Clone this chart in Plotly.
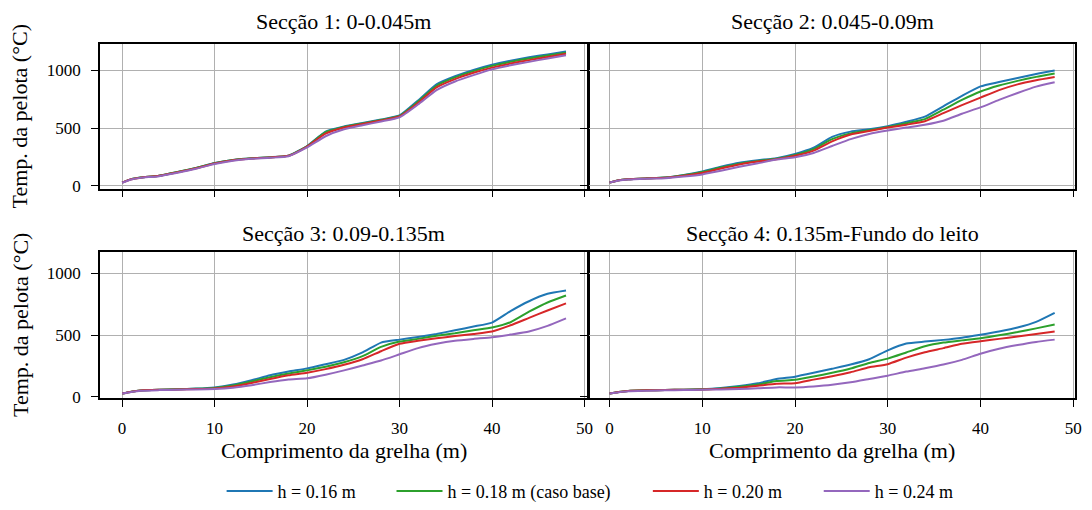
import plotly.graph_objects as go

# ---------------- data ----------------
x = [0, 1, 2, 4, 6, 8, 10, 12, 14, 16, 18, 20, 22, 24, 26, 28, 30, 32, 34, 36, 38, 40, 42, 44, 46, 48]

series_names = ["h = 0.16 m", "h = 0.18 m (caso base)", "h = 0.20 m", "h = 0.24 m"]
colors = ["#1f77b4", "#2ca02c", "#d62728", "#9467bd"]
section_titles = ["Secção 1: 0-0.045m", "Secção 2: 0.045-0.09m",
                  "Secção 3: 0.09-0.135m", "Secção 4: 0.135m-Fundo do leito"]

s1_h016 = [28, 58, 72, 88, 120, 155, 198, 225, 240, 248, 262, 345, 470, 515, 545, 575, 610, 740, 880, 950, 1005, 1050, 1085, 1115, 1140, 1165]
s1_h018 = [28, 58, 72, 88, 119, 154, 197, 224, 239, 247, 261, 343, 465, 510, 541, 571, 606, 730, 868, 940, 995, 1040, 1075, 1105, 1130, 1155]
s1_h020 = [28, 57, 71, 87, 118, 152, 194, 222, 237, 246, 260, 340, 452, 505, 536, 566, 601, 718, 853, 925, 980, 1025, 1060, 1090, 1117, 1145]
s1_h024 = [27, 55, 69, 84, 114, 148, 189, 218, 234, 243, 257, 333, 430, 490, 525, 558, 594, 705, 830, 905, 960, 1010, 1045, 1075, 1105, 1132]

s2_h016 = [28, 48, 57, 65, 72, 95, 125, 165, 200, 222, 240, 276, 330, 425, 470, 490, 517, 555, 600, 690, 780, 862, 900, 935, 970, 1000]
s2_h018 = [28, 48, 57, 65, 72, 92, 120, 158, 192, 215, 235, 268, 318, 405, 455, 482, 510, 542, 578, 660, 745, 818, 870, 910, 945, 975]
s2_h020 = [28, 48, 57, 64, 70, 88, 112, 150, 185, 210, 230, 260, 305, 385, 445, 475, 505, 530, 560, 630, 700, 765, 830, 880, 915, 943]
s2_h024 = [28, 46, 55, 62, 66, 80, 99, 130, 165, 195, 228, 247, 285, 345, 405, 450, 480, 505, 530, 565, 625, 680, 745, 805, 860, 898]

s3_h016 = [27, 42, 52, 58, 62, 67, 77, 100, 135, 175, 205, 231, 265, 300, 360, 440, 464, 485, 510, 540, 570, 602, 695, 775, 835, 862]
s3_h018 = [27, 42, 52, 58, 62, 66, 73, 92, 125, 160, 190, 215, 245, 280, 330, 405, 448, 470, 495, 515, 540, 562, 605, 690, 765, 822]
s3_h020 = [27, 42, 52, 57, 60, 63, 69, 84, 112, 145, 175, 196, 225, 260, 305, 370, 430, 455, 475, 493, 510, 530, 580, 640, 700, 758]
s3_h024 = [27, 40, 50, 55, 58, 60, 64, 75, 95, 120, 140, 151, 180, 215, 255, 295, 345, 395, 430, 455, 470, 483, 505, 530, 575, 636]

s4_h016 = [27, 40, 48, 53, 56, 58, 62, 72, 88, 110, 145, 164, 195, 228, 262, 305, 377, 432, 448, 462, 480, 504, 530, 562, 608, 681]
s4_h018 = [27, 40, 48, 53, 56, 58, 61, 68, 82, 100, 128, 138, 165, 195, 230, 275, 310, 360, 410, 440, 458, 475, 500, 525, 555, 586]
s4_h020 = [27, 40, 48, 53, 56, 58, 60, 65, 75, 90, 106, 111, 140, 168, 200, 240, 265, 318, 362, 395, 430, 451, 470, 490, 510, 530]
s4_h024 = [27, 38, 46, 50, 53, 55, 58, 60, 64, 70, 77, 77, 85, 98, 118, 145, 172, 205, 232, 262, 300, 350, 390, 420, 445, 464]

sections = [
    [s1_h016, s1_h018, s1_h020, s1_h024],
    [s2_h016, s2_h018, s2_h020, s2_h024],
    [s3_h016, s3_h018, s3_h020, s3_h024],
    [s4_h016, s4_h018, s4_h020, s4_h024],
]

x_ticks = [0, 10, 20, 30, 40, 50]
y_ticks = [0, 500, 1000]
x_label = "Comprimento da grelha (m)"
y_label = "Temp. da pelota (°C)"

# ---------------- layout geometry ----------------
OFF = 8                       # page body margin of the HTML page
W, H = 1092 - OFF, 510 - OFF
FONT = "Liberation Serif"


def fx(p):
    return (p - OFF) / W


def fy(p):
    return 1 - (p - OFF) / H


xdom_L = [fx(100.5), fx(591.5)]
xdom_R = [fx(593), fx(1082)]
ydom_T = [fy(192), fy(45)]
ydom_B = [fy(405), fy(256.7)]

axes_cfg = [
    (xdom_L, ydom_T, [-2.4, 50.35], [-25, 1227], False, True),
    (xdom_R, ydom_T, [-2.19, 50.2], [-25, 1227], False, False),
    (xdom_L, ydom_B, [-2.4, 50.35], [-8, 1172], True, True),
    (xdom_R, ydom_B, [-2.19, 50.2], [-8, 1172], True, False),
]

fig = go.Figure()

legend_keys = ["legend", "legend2", "legend3", "legend4"]
for si, sec in enumerate(sections):
    ax = "" if si == 0 else str(si + 1)
    for k, ys in enumerate(sec):
        fig.add_trace(go.Scatter(
            x=x, y=ys, mode="lines", name=series_names[k],
            line=dict(color=colors[k], width=2, shape="spline", smoothing=0.5),
            xaxis="x" + ax, yaxis="y" + ax,
            showlegend=(si == 0), legend=legend_keys[k],
        ))

layout = dict(
    width=W, height=H,
    margin=dict(l=0, r=0, t=0, b=0),
    paper_bgcolor="white", plot_bgcolor="white",
    font=dict(family=FONT, size=17, color="black"),
)

for i, (xd, yd, xr, yr, show_xl, show_yl) in enumerate(axes_cfg):
    sfx = "" if i == 0 else str(i + 1)
    common = dict(
        ticks="outside", ticklen=7, tickwidth=1.4, tickcolor="black",
        ticklabelstandoff=7,
        showgrid=True, gridcolor="#b0b0b0", gridwidth=1.4,
        showline=True, linecolor="black", linewidth=1.5, mirror=True,
        zeroline=False, tickfont=dict(size=17, family=FONT, color="black"),
    )
    layout["xaxis" + sfx] = dict(domain=xd, anchor="y" + sfx, range=xr,
                                 tickvals=x_ticks, showticklabels=show_xl, **common)
    layout["yaxis" + sfx] = dict(domain=yd, anchor="x" + sfx, range=yr,
                                 tickvals=y_ticks, showticklabels=show_yl, **common)

# legends: one per entry, placed in a row under the figure
leg_x_page = [223, 394, 652, 824]
for k, key in enumerate(legend_keys):
    layout[key] = dict(
        x=fx(leg_x_page[k]), y=fy(500), xanchor="left", yanchor="middle",
        orientation="h", bgcolor="rgba(0,0,0,0)", borderwidth=0,
        font=dict(family=FONT, size=18, color="black"), itemwidth=46,
    )

fig.update_layout(**layout)

annotations = []
title_pos = [
    ((xdom_L[0] + xdom_L[1]) / 2, fy(22)),
    ((xdom_R[0] + xdom_R[1]) / 2, fy(22)),
    ((xdom_L[0] + xdom_L[1]) / 2, fy(238)),
    ((xdom_R[0] + xdom_R[1]) / 2, fy(238)),
]
for t, (tx, ty) in zip(section_titles, title_pos):
    annotations.append(dict(text=t, x=tx, y=ty, xref="paper", yref="paper",
                            showarrow=False, xanchor="center", yanchor="middle",
                            font=dict(size=22, family=FONT, color="black")))
for cx in [(xdom_L[0] + xdom_L[1]) / 2, (xdom_R[0] + xdom_R[1]) / 2]:
    annotations.append(dict(text=x_label, x=cx, y=fy(459), xref="paper", yref="paper",
                            showarrow=False, xanchor="center", yanchor="middle",
                            font=dict(size=22, family=FONT, color="black")))
for cy in [(ydom_T[0] + ydom_T[1]) / 2, (ydom_B[0] + ydom_B[1]) / 2]:
    annotations.append(dict(text=y_label, x=fx(20), y=cy, xref="paper", yref="paper",
                            showarrow=False, xanchor="center", yanchor="middle", textangle=-90,
                            font=dict(size=22, family=FONT, color="black")))
fig.update_layout(annotations=annotations)

fig.write_html("out.html")
